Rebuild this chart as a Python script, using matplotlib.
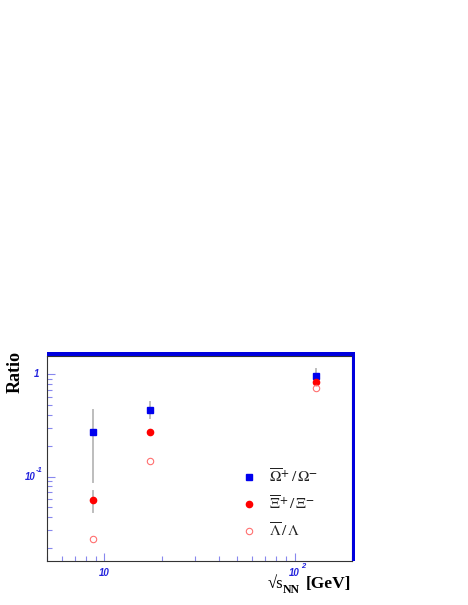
import matplotlib
matplotlib.use("Agg")
import matplotlib.pyplot as plt
from matplotlib.patches import Rectangle
from matplotlib.ticker import LogLocator, NullFormatter, FixedLocator

energies = [8.77, 17.3, 130.0]
omega = [0.27, 0.45, 0.96]
omega_lo = [0.089, 0.37, 0.96]
omega_hi = [0.45, 0.53, 1.12]
xi = [0.059, 0.27, 0.84]
xi_lo = [0.045, 0.27, 0.84]
xi_hi = [0.072, 0.27, 0.84]
lam = [0.0245, 0.143, 0.73]
legend_labels = [r"$\overline{\Omega}^{\mathbf{+}}\,/\,\Omega^{\mathbf{-}}$",
                 r"$\overline{\Xi}^{\mathbf{+}}\,/\,\Xi^{\mathbf{-}}$",
                 r"$\overline{\Lambda}\,/\,\Lambda$"]

plt.rcParams['mathtext.fontset'] = 'stix'
W, H = 468, 605
fig = plt.figure(figsize=(W/100, H/100), dpi=100)
L, R, B, T = 47, 352, 561, 356
ax = fig.add_axes([L/W, 1-B/H, (R-L)/W, (B-T)/H])
ax.set_xscale('log')
ax.set_yscale('log')
ax.set_xlim(5, 200)
ax.set_ylim(0.015, 1.5)

err_c = '#bdbdbd'
for lo, hi in [(omega_lo, omega_hi), (xi_lo, xi_hi)]:
    for x, lo_, hi_ in zip(energies, lo, hi):
        if hi_ > lo_:
            ax.plot([x, x], [lo_, hi_], color=err_c, lw=1.4, zorder=1)

sq = dict(marker='s', color='#0000ee', ms=4.6, ls='none')
fc = dict(marker='o', color='#ff0000', ms=4.5, ls='none')
oc = dict(marker='o', mfc='none', mec='#ff7070', mew=0.8, ms=4.6, ls='none')
ax.plot(energies, omega, zorder=3, **sq)
ax.plot(energies, xi, zorder=3, **fc)
ax.plot(energies, lam, zorder=3, **oc)

for sp in ax.spines.values():
    sp.set_color('#333333')
    sp.set_linewidth(0.8)

tc = '#8888ee'
ax.tick_params(axis='both', which='both', direction='in', color=tc, top=False, right=False,
               labelbottom=False, labelleft=False)
ax.tick_params(axis='both', which='major', length=6, width=0.8)
ax.tick_params(axis='both', which='minor', length=3.5, width=0.8)
ax.xaxis.set_major_locator(FixedLocator([10, 100]))
ax.xaxis.set_minor_locator(LogLocator(base=10, subs=range(2, 10)))
ax.xaxis.set_minor_formatter(NullFormatter())
ax.yaxis.set_major_locator(FixedLocator([0.1, 1]))
ax.yaxis.set_minor_locator(LogLocator(base=10, subs=range(2, 10)))
ax.yaxis.set_minor_formatter(NullFormatter())

# tick labels (ROOT style)
tk = dict(color='#2222dd', fontsize=7, fontweight='bold', fontstyle='italic',
          family='Liberation Sans')
sk = dict(color='#2222dd', fontsize=5.5, fontweight='bold', fontstyle='italic',
          family='Liberation Sans')
fig.text(104/W, 1-573/H, "10", ha='center', va='center', **tk)
fig.text(294/W, 1-573/H, "10", ha='center', va='center', **tk)
fig.text(301/W, 1-566/H, "2", ha='left', va='center', **sk)
fig.text(37/W, 1-374/H, "1", ha='center', va='center', **tk)
fig.text(30/W, 1-477/H, "10", ha='center', va='center', **tk)
fig.text(36/W, 1-471/H, "-1", ha='left', va='center', **sk)

# blue frame shadow
fig.patches.append(Rectangle((L/W, 1-356/H), (355-L)/W, 4/H, transform=fig.transFigure,
                             facecolor='#0000dd', lw=0, zorder=0))
fig.patches.append(Rectangle((352/W, 1-561/H), 3/W, (561-352)/H, transform=fig.transFigure,
                             facecolor='#0000dd', lw=0, zorder=0))

# legend
lx = 249
for st, lab, yy in zip([sq, fc, oc], legend_labels, [476.7, 503.7, 530.7]):
    fig.lines.append(plt.Line2D([lx/W], [1-yy/H], transform=fig.transFigure, **st))
    fig.text(269/W, 1-yy/H, lab, fontsize=11, va='center', ha='left', color='#222222')

fig.text(15/W, 1-372/H, "Ratio", rotation=90, fontsize=13, fontweight='bold',
         family='Liberation Serif', ha='center', va='center')
fig.text(268/W, 1-584/H, "\u221As", fontsize=12, family='Liberation Serif',
         ha='left', va='center')
fig.text(283/W, 1-590/H, "NN", fontsize=8.5, fontweight='bold', family='Liberation Serif',
         ha='left', va='center')
fig.text(351/W, 1-584/H, "[GeV]", fontsize=12.5, fontweight='bold', family='Liberation Serif',
         ha='right', va='center')

fig.savefig("out.png", dpi=100)
